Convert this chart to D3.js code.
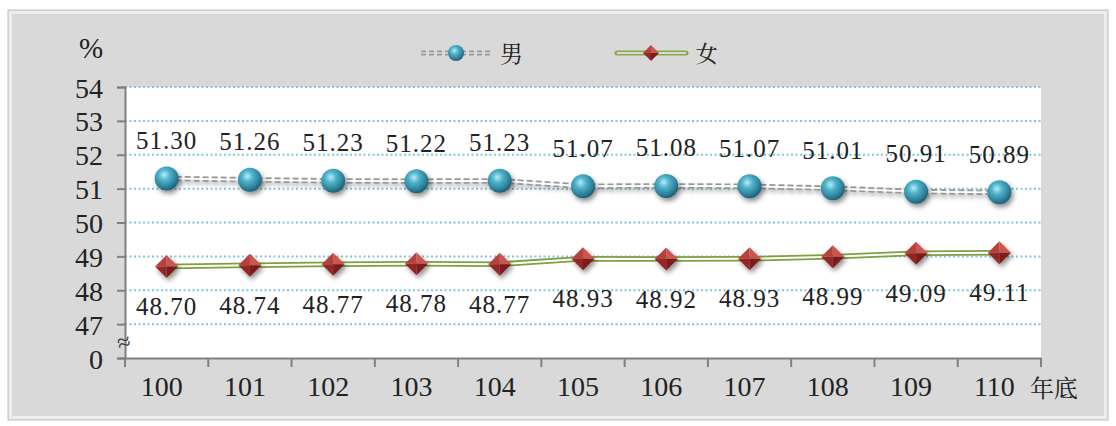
<!DOCTYPE html>
<html>
<head>
<meta charset="utf-8">
<script src="https://cdn.jsdelivr.net/npm/d3@7"></script>
<style>
  body { margin: 0; background: #ffffff; }
  #chart { width: 1116px; height: 426px; }
  svg text { font-family: 'Liberation Serif', 'Times New Roman', serif; }
  svg text.cjk { font-family: 'Noto Serif CJK TC', 'Noto Sans CJK TC', serif; }
</style>
</head>
<body>
<div id="chart"></div>
<script>
// male / female share by year end (%)
var years = ["100", "101", "102", "103", "104", "105", "106", "107", "108", "109", "110"];
var male = [51.30, 51.26, 51.23, 51.22, 51.23, 51.07, 51.08, 51.07, 51.01, 50.91, 50.89];
var female = [48.70, 48.74, 48.77, 48.78, 48.77, 48.93, 48.92, 48.93, 48.99, 49.09, 49.11];
// axis is broken: the bottom step is labelled 0
var yTicks = [46, 47, 48, 49, 50, 51, 52, 53, 54];
var yTickLabels = ["0", "47", "48", "49", "50", "51", "52", "53", "54"];

(function() {

    var width = 1116, height = 426;

    var svg = d3.select("#chart").append("svg")
        .attr("width", width)
        .attr("height", height);

    var defs = svg.append("defs");

    // ball gradient
    var ball = defs.append("radialGradient")
        .attr("id", "ball")
        .attr("cx", "40%").attr("cy", "35%").attr("r", "65%");
    ball.append("stop").attr("offset", "0%").attr("stop-color", "#b8ecf5");
    ball.append("stop").attr("offset", "35%").attr("stop-color", "#4fb3cb");
    ball.append("stop").attr("offset", "80%").attr("stop-color", "#2b7f97");
    ball.append("stop").attr("offset", "100%").attr("stop-color", "#1f5f72");

    var shadow = defs.append("filter")
        .attr("id", "shadow")
        .attr("x", "-50%").attr("y", "-50%")
        .attr("width", "200%").attr("height", "200%");
    shadow.append("feDropShadow")
        .attr("dx", 2).attr("dy", 3)
        .attr("stdDeviation", 2.5)
        .attr("flood-color", "#000")
        .attr("flood-opacity", 0.45);

    var lineShadow = defs.append("filter")
        .attr("id", "lshadow")
        .attr("x", "-5%").attr("y", "-100%")
        .attr("width", "110%").attr("height", "300%");
    lineShadow.append("feDropShadow")
        .attr("dx", 1).attr("dy", 3)
        .attr("stdDeviation", 2)
        .attr("flood-color", "#000")
        .attr("flood-opacity", 0.25);

    // outer frame
    svg.append("rect")
        .attr("x", 8).attr("y", 10)
        .attr("width", 1100).attr("height", 410)
        .attr("fill", "#d9d9d9")
        .attr("stroke", "#c4c4c4")
        .attr("stroke-width", 1);
    svg.append("rect")
        .attr("x", 10.5).attr("y", 12.5)
        .attr("width", 1095).attr("height", 405)
        .attr("fill", "none")
        .attr("stroke", "#eeeeee")
        .attr("stroke-width", 3);

    var margin = { top: 87, right: 75, bottom: 68, left: 125 };
    var plotW = width - margin.left - margin.right;
    var plotH = height - margin.top - margin.bottom;

    var x = d3.scaleBand()
        .domain(years)
        .range([margin.left, margin.left + plotW]);

    var y = d3.scaleLinear()
        .domain([46, 54])
        .range([margin.top + plotH, margin.top]);

    // plot area
    svg.append("rect")
        .attr("x", margin.left).attr("y", margin.top)
        .attr("width", plotW).attr("height", plotH)
        .attr("fill", "#ffffff");

    // grid lines
    svg.selectAll(".grid")
        .data(yTicks.slice(1))
        .enter()
        .append("line")
        .attr("x1", margin.left)
        .attr("x2", margin.left + plotW)
        .attr("y1", function(d) { return y(d); })
        .attr("y2", function(d) { return y(d); })
        .attr("stroke", "#7cc7da")
        .attr("stroke-width", 2)
        .attr("stroke-dasharray", "2,2.5");

    // y axis
    var yAxis = svg.append("g")
        .attr("transform", "translate(" + margin.left + ",0)")
        .call(d3.axisLeft(y)
            .tickValues(yTicks)
            .tickSize(8)
            .tickPadding(14)
            .tickFormat(function(d, i) { return yTickLabels[i]; }));

    yAxis.attr("font-family", null);
    yAxis.selectAll("text")
        .attr("dy", "0.36em")
        .attr("font-size", "28px")
        .attr("fill", "#222");

    // x axis: ticks at category boundaries
    var xAxisY = margin.top + plotH;
    var xAxis = svg.append("g")
        .attr("transform", "translate(0," + xAxisY + ")")
        .call(d3.axisBottom(x).tickSize(0).tickPadding(17));

    xAxis.attr("font-family", null);
    xAxis.selectAll("text")
        .attr("x", -5)
        .attr("y", 38)
        .attr("dy", null)
        .attr("font-size", "28px")
        .attr("fill", "#222");

    var bounds = years.map(function(d) { return x(d); }).concat([x(years[years.length - 1]) + x.bandwidth()]);
    svg.selectAll(".xtick")
        .data(bounds)
        .enter()
        .append("line")
        .attr("x1", function(d) { return d; })
        .attr("x2", function(d) { return d; })
        .attr("y1", xAxisY)
        .attr("y2", xAxisY + 9)
        .attr("stroke", "#808080")
        .attr("stroke-width", 2);

    svg.selectAll(".domain")
        .attr("stroke", "#808080")
        .attr("stroke-width", 2);
    yAxis.selectAll(".tick line")
        .attr("stroke", "#808080")
        .attr("stroke-width", 2);

    // axis break mark
    var bx = margin.left - 1, by = y(46.5) + 2;
    svg.append("text")
        .attr("x", bx)
        .attr("y", by + 7)
        .attr("text-anchor", "middle")
        .attr("font-size", "24px")
        .attr("fill", "#333")
        .attr("transform", "rotate(-15," + bx + "," + by + ")")
        .text("≈");

    // unit labels
    svg.append("text")
        .attr("x", 91).attr("y", 58)
        .attr("text-anchor", "middle")
        .attr("font-size", "29px")
        .attr("fill", "#222")
        .text("%");

    svg.append("text")
        .attr("class", "cjk")
        .attr("x", 1030).attr("y", 397)
        .attr("font-size", "24px")
        .attr("fill", "#222")
        .text("年底");

    function cx(d, i) { return x(years[i]) + x.bandwidth() / 2; }

    var line = d3.line()
        .x(function(d, i) { return cx(d, i); })
        .y(function(d) { return y(d); });

    // male: double dashed gray line
    var mg = svg.append("g").attr("filter", "url(#lshadow)");
    mg.append("path")
        .datum(male)
        .attr("d", line)
        .attr("fill", "none")
        .attr("stroke", "#9a9a9a")
        .attr("stroke-width", 5.5)
        .attr("stroke-dasharray", "6,3");
    mg.append("path")
        .datum(male)
        .attr("d", line)
        .attr("fill", "none")
        .attr("stroke", "#ffffff")
        .attr("stroke-width", 1.8);

    // female: double green line
    var fg = svg.append("g");
    fg.append("path")
        .datum(female)
        .attr("d", line)
        .attr("fill", "none")
        .attr("stroke", "#7f9f40")
        .attr("stroke-width", 5.5);
    fg.append("path")
        .datum(female)
        .attr("d", line)
        .attr("fill", "none")
        .attr("stroke", "#ffffff")
        .attr("stroke-width", 2);

    // male markers
    svg.selectAll(".ball")
        .data(male)
        .enter()
        .append("circle")
        .attr("cx", cx)
        .attr("cy", function(d) { return y(d); })
        .attr("r", 12)
        .attr("fill", "url(#ball)")
        .attr("filter", "url(#shadow)");

    // female markers: faceted diamond
    function diamond(g, r) {
        var facets = [
            { pts: [[0, 0], [-r, 0], [0, -r]], c: "#b5403c" },
            { pts: [[0, 0], [0, -r], [r, 0]], c: "#c9564f" },
            { pts: [[0, 0], [r, 0], [0, r]], c: "#7a1c1a" },
            { pts: [[0, 0], [0, r], [-r, 0]], c: "#952826" }
        ];
        facets.forEach(function(f) {
            g.append("polygon")
                .attr("points", f.pts.map(function(p) { return p.join(","); }).join(" "))
                .attr("fill", f.c);
        });
    }

    svg.selectAll(".dia")
        .data(female)
        .enter()
        .append("g")
        .attr("transform", function(d, i) { return "translate(" + cx(d, i) + "," + y(d) + ")"; })
        .attr("filter", "url(#shadow)")
        .each(function() { diamond(d3.select(this), 11.5); });

    // data labels
    svg.selectAll(".mlab")
        .data(male)
        .enter()
        .append("text")
        .attr("x", cx)
        .attr("y", function(d) { return y(d) - 29.5; })
        .attr("text-anchor", "middle")
        .attr("font-size", "25px")
        .attr("letter-spacing", "1px")
        .attr("fill", "#222")
        .text(function(d) { return d.toFixed(2); });

    svg.selectAll(".flab")
        .data(female)
        .enter()
        .append("text")
        .attr("x", cx)
        .attr("y", function(d) { return y(d) + 48.5; })
        .attr("text-anchor", "middle")
        .attr("font-size", "25px")
        .attr("letter-spacing", "1px")
        .attr("fill", "#222")
        .text(function(d) { return d.toFixed(2); });

    // legend
    var lg = svg.append("g");
    lg.append("line")
        .attr("x1", 421).attr("x2", 490)
        .attr("y1", 53).attr("y2", 53)
        .attr("stroke", "#9a9a9a")
        .attr("stroke-width", 5)
        .attr("stroke-dasharray", "5,3");
    lg.append("line")
        .attr("x1", 421).attr("x2", 490)
        .attr("y1", 53).attr("y2", 53)
        .attr("stroke", "#d9d9d9")
        .attr("stroke-width", 1.6);
    lg.append("circle")
        .attr("cx", 456).attr("cy", 53)
        .attr("r", 8)
        .attr("fill", "url(#ball)");
    lg.append("text")
        .attr("class", "cjk")
        .attr("x", 500).attr("y", 62)
        .attr("font-size", "23px")
        .attr("fill", "#222")
        .text("男");

    lg.append("line")
        .attr("x1", 617).attr("x2", 686)
        .attr("y1", 53).attr("y2", 53)
        .attr("stroke", "#8aa84a")
        .attr("stroke-width", 5)
        .attr("stroke-linecap", "round");
    lg.append("line")
        .attr("x1", 617).attr("x2", 686)
        .attr("y1", 53).attr("y2", 53)
        .attr("stroke", "#d9d9d9")
        .attr("stroke-width", 1.8);
    var ld = lg.append("g").attr("transform", "translate(651,53)");
    diamond(ld, 8);
    lg.append("text")
        .attr("class", "cjk")
        .attr("x", 695).attr("y", 62)
        .attr("font-size", "23px")
        .attr("fill", "#222")
        .text("女");

})();
</script>
</body>
</html>
